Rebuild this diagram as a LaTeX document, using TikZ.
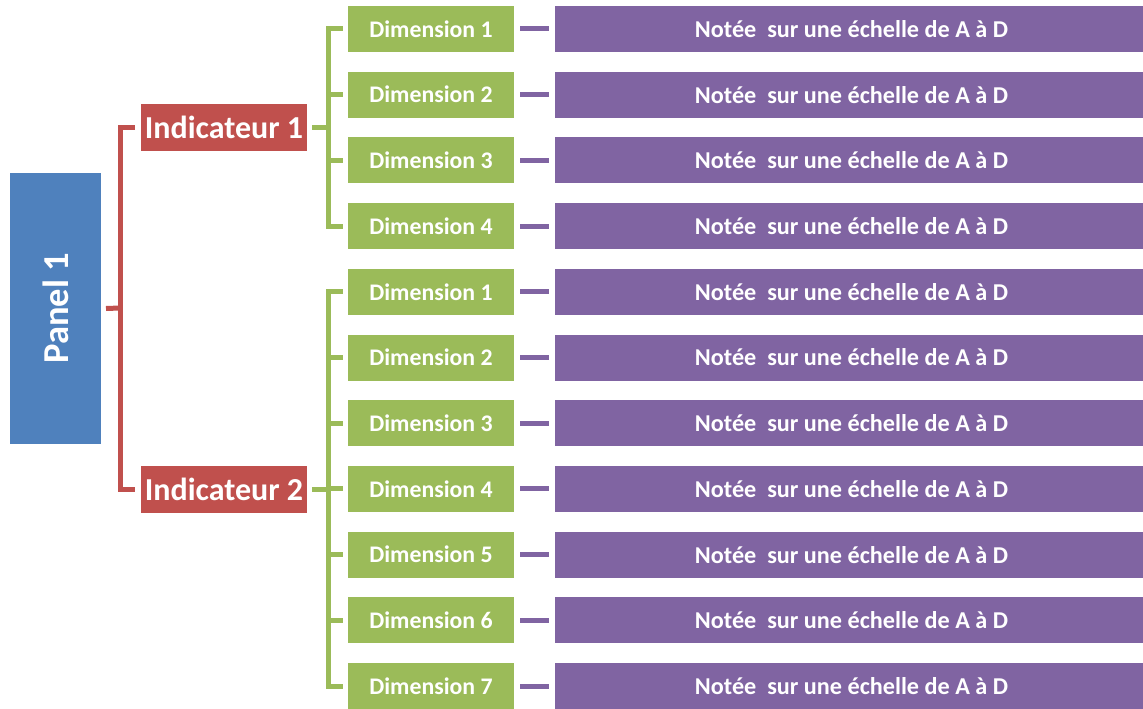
\documentclass[tikz,border=0pt]{standalone}
\usepackage{fontspec}
\setmainfont{Carlito}
\definecolor{pblue}{HTML}{4F81BD}
\definecolor{pred}{HTML}{C0504D}
\definecolor{pgreen}{HTML}{9BBB59}
\definecolor{ppurple}{HTML}{8064A2}
\begin{document}
\begin{tikzpicture}[x=1pt,y=-1pt,
  base/.style={inner sep=0pt,outer sep=0pt,text=white,font=\bfseries},
  panelbox/.style={base,fill=pblue,minimum width=91pt,minimum height=271pt},
  indbox/.style={base,fill=pred,minimum width=166pt,minimum height=47pt,font=\bfseries\fontsize{32}{36}\selectfont},
  dimbox/.style={base,fill=pgreen,minimum width=166pt,minimum height=46pt,font=\bfseries\fontsize{23.8}{28}\selectfont},
  notebox/.style={base,fill=ppurple,minimum width=588pt,minimum height=46pt,font=\bfseries\fontsize{24.2}{28}\selectfont},
  redline/.style={draw=pred,line width=5pt},
  greenline/.style={draw=pgreen,line width=5pt},
  purpleline/.style={draw=ppurple,line width=5pt}]
\useasboundingbox (0,0) rectangle (1143,709);
\node[panelbox] (panel) at (55.5,308.5) {\rotatebox{90}{\fontsize{36.5}{42}\selectfont Panel 1}};
\node[indbox] (ind1) at (224,127.5) {Indicateur 1};
\node[indbox] (ind2) at (224,489.5) {Indicateur 2};
\foreach \i/\lab in {1/1,2/2,3/3,4/4,5/1,6/2,7/3,8/4,9/5,10/6,11/7}{
  \pgfmathsetmacro{\yy}{29+65.7*(\i-1)}
  \node[dimbox] (d\i) at (431,\yy) {Dimension \lab};
  \node[notebox] (n\i) at (849,\yy) {\hspace*{5pt}Notée \ sur une échelle de A à D};
  \draw[purpleline] ([xshift=6pt]d\i.east) -- ([xshift=-6pt]n\i.west);
}
\coordinate (rb) at (120,308);
\draw[redline] ([xshift=5pt]panel.east) -- (rb);
\draw[redline] (rb) |- ([xshift=-6pt]ind1.west);
\draw[redline] (rb) |- ([xshift=-6pt]ind2.west);
\coordinate (g1) at (328,127.5);
\coordinate (g2) at (328,489.5);
\draw[greenline] ([xshift=5pt]ind1.east) -- (g1);
\draw[greenline] ([xshift=5pt]ind2.east) -- (g2);
\foreach \i in {1,2,3,4}{
  \draw[greenline] (g1) |- ([xshift=-5pt]d\i.west);
}
\foreach \i in {5,6,7,8,9,10,11}{
  \draw[greenline] (g2) |- ([xshift=-5pt]d\i.west);
}
\end{tikzpicture}
\end{document}
